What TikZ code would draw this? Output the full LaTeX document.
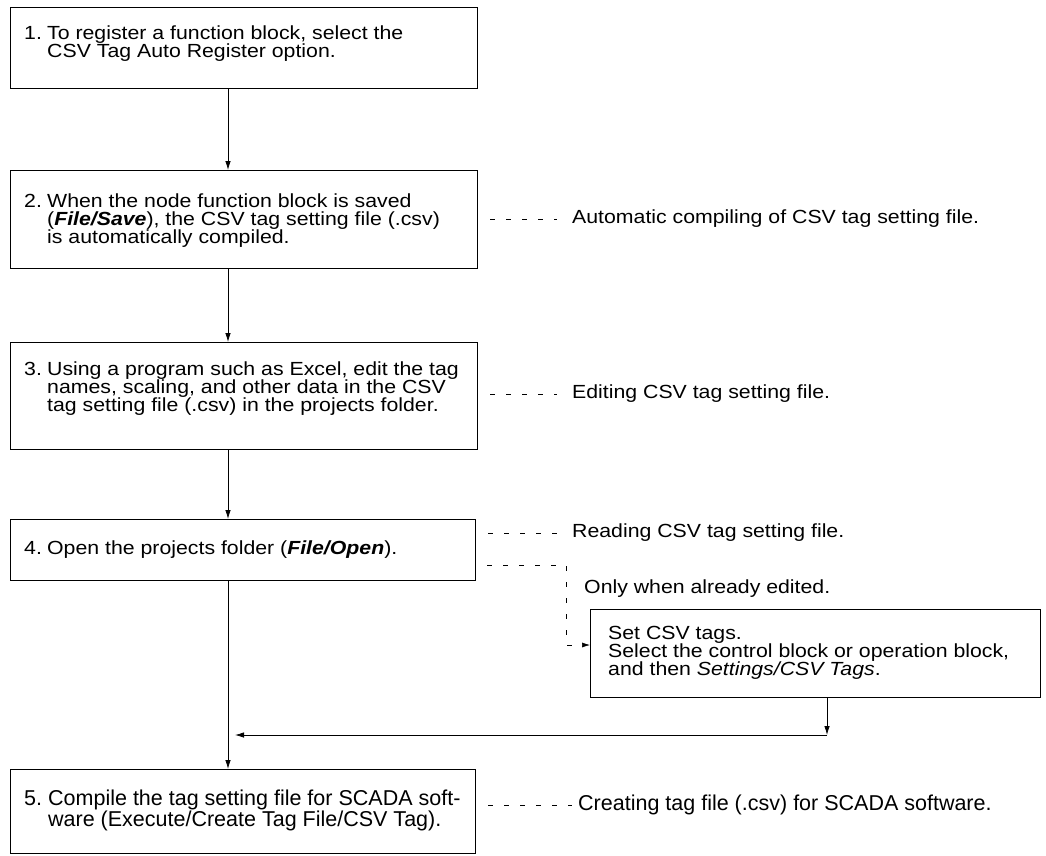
\documentclass[tikz,border=0pt]{standalone}
\usepackage{fontspec}
\setmainfont{Liberation Sans}[FakeStretch=1.12]
\newfontfamily\narrowfont{Liberation Sans}
\usetikzlibrary{arrows.meta}
\newcommand{\mainsz}{\fontsize{19}{18}\selectfont}
\newcommand{\narrsz}{\narrowfont\fontsize{21.5}{18.5}\selectfont}
\newcommand{\numlbl}[1]{\makebox[23pt][l]{#1}}
\newcommand{\indnt}{\hspace*{23pt}}
\begin{document}
\begin{tikzpicture}[x=1pt,y=-1pt,
  box/.style={draw, line width=1.1pt, inner sep=0pt, anchor=north west},
  txt/.style={anchor=north west, inner sep=0pt, align=left, font=\mainsz},
  lbl/.style={anchor=west, inner sep=0pt, font=\mainsz},
  arr/.style={-{Latex[length=9pt,width=5.5pt]}, line width=0.8pt},
  dsh/.style={dash pattern=on 5pt off 11pt, line width=0.6pt}]
\useasboundingbox (0,0) rectangle (1046,855);
% boxes
\node[box, minimum width=467pt, minimum height=81pt] (b1) at (10,7) {};
\node[box, minimum width=467pt, minimum height=98pt] (b2) at (10,170) {};
\node[box, minimum width=467pt, minimum height=107pt] (b3) at (10,342) {};
\node[box, minimum width=465pt, minimum height=61pt] (b4) at (10,519) {};
\node[box, minimum width=465pt, minimum height=84pt] (b5) at (10,769) {};
\node[box, minimum width=450pt, minimum height=88pt] (b6) at (590,609) {};
% box texts
\node[txt] (t1) at (24,26) {\numlbl{1.}To register a function block, select the\\
  \indnt CSV Tag Auto Register option.};
\node[txt] (t2) at (24,194) {\numlbl{2.}When the node function block is saved\\
  \indnt(\textbf{\textit{File/Save}}), the CSV tag setting file (.csv)\\
  \indnt is automatically compiled.};
\node[txt] (t3) at (24,362) {\numlbl{3.}Using a program such as Excel, edit the tag\\
  \indnt names, scaling, and other data in the CSV\\
  \indnt tag setting file (.csv) in the projects folder.};
\node[txt] (t4) at (24,541) {\numlbl{4.}Open the projects folder (\textbf{\textit{File/Open}}).};
\node[txt, font=\narrsz] (t5) at (24,790) {\makebox[24pt][l]{5.}Compile the tag setting file for SCADA soft-\\
  \hspace*{24pt}ware (Execute/Create Tag File/CSV Tag).};
\node[txt] (t6) at (608,626) {Set CSV tags.\\
  Select the control block or operation block,\\
  and then \textit{Settings/CSV Tags}.};
% side labels
\node[lbl] (l2) at (572,219) {Automatic compiling of CSV tag setting file.};
\node[lbl] (l3) at (572,394) {Editing CSV tag setting file.};
\node[lbl] (l4a) at (572,533) {Reading CSV tag setting file.};
\node[lbl] (l4b) at (584,589) {Only when already edited.};
\node[lbl, font=\narrsz] (l5) at (578,805) {Creating tag file (.csv) for SCADA software.};
% main flow
\coordinate (colx) at (228,0);
\draw[arr] (b1.south -| colx) -- (b2.north -| colx);
\draw[arr] (b2.south -| colx) -- (b3.north -| colx);
\draw[arr] (b3.south -| colx) -- (b4.north -| colx);
\draw[arr] (b4.south -| colx) -- (b5.north -| colx);
% return from box 6
\coordinate (j) at (827,735);
\coordinate (k) at (235,735);
\draw[arr] (b6.south -| j) -- (j);
\draw[arr] (j) -- (k);
% dashed leaders
\draw[dsh] ([xshift=12pt]b2.east |- l2.west) -- ([xshift=-15pt]l2.west);
\draw[dsh] ([xshift=12pt]b3.east |- l3.west) -- ([xshift=-15pt]l3.west);
\draw[dsh] ([xshift=12pt]b4.east |- l4a.west) -- ([xshift=-15pt]l4a.west);
\coordinate (c0) at (487,565);
\coordinate (c1) at (566,565);
\coordinate (c2) at (566,645);
\draw[dsh, -{Latex[length=8pt,width=5pt]}] (c0) -- (c1) -- (c2) -- (b6.west |- c2);
\draw[dsh] ([xshift=12pt]b5.east |- l5.west) -- ([xshift=-6pt]l5.west);
\end{tikzpicture}
\end{document}
